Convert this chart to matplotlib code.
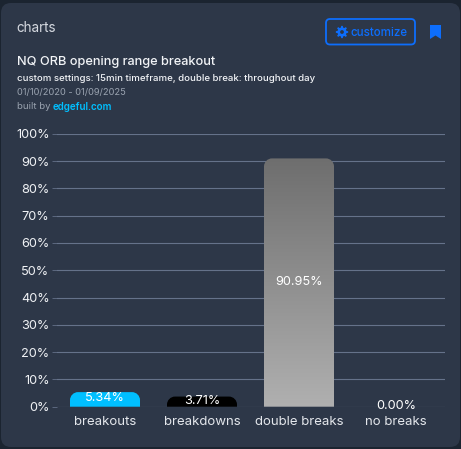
import matplotlib

matplotlib.use("Agg")
import matplotlib.pyplot as plt
import numpy as np
from matplotlib.patches import Circle, FancyBboxPatch, PathPatch, Polygon
from matplotlib.path import Path

W, H = 461, 449

categories = ["breakouts", "breakdowns", "double breaks", "no breaks"]
values = [5.34, 3.71, 90.95, 0.00]
value_labels = ["5.34%", "3.71%", "90.95%", "0.00%"]
bar_colors = ["#00BFFF", "#000000", None, None]
y_ticks = list(range(0, 101, 10))
y_tick_labels = [f"{t}%" for t in y_ticks]

plt.rcParams["font.family"] = ["Inter", "DejaVu Sans"]

BG = "#1B2430"
CARD = "#2D3748"
GRID = "#65728A"
BLUE = "#0D6EFD"
BAR_W_PX = 70
RADIUS_PX = 8


def rounded_bar(x, height, half_w, rx, ry):
    """Closed path for a bar with rounded top corners, in data coords."""
    k = 0.45
    ry = min(ry, height)
    verts = [
        (x - half_w, 0),
        (x - half_w, height - ry),
        (x - half_w, height - ry * k),
        (x - half_w + rx * k, height),
        (x - half_w + rx, height),
        (x + half_w - rx, height),
        (x + half_w - rx * k, height),
        (x + half_w, height - ry * k),
        (x + half_w, height - ry),
        (x + half_w, 0),
        (x - half_w, 0),
    ]
    codes = [Path.MOVETO, Path.LINETO, Path.CURVE4, Path.CURVE4, Path.CURVE4, Path.LINETO,
             Path.CURVE4, Path.CURVE4, Path.CURVE4, Path.LINETO, Path.CLOSEPOLY]
    return Path(verts, codes)


def gear_points(cx, cy, outer, inner, teeth=8):
    """Outline of a solid gear icon."""
    pts = []
    step = 2 * np.pi / teeth
    for i in range(teeth):
        a = i * step
        for offset, r in [(-0.30, inner), (-0.17, outer), (0.17, outer), (0.30, inner)]:
            pts.append((cx + r * np.cos(a + offset * step), cy + r * np.sin(a + offset * step)))
    return pts


fig = plt.figure(figsize=(W / 100, H / 100), dpi=100, facecolor=BG)

# page layer, in pixels with y going down
page = fig.add_axes([0, 0, 1, 1], zorder=0)
page.set_xlim(0, W)
page.set_ylim(H, 0)
page.axis("off")
page.add_patch(FancyBboxPatch((1, 3), W - 2, H - 5, boxstyle="round,pad=0,rounding_size=10",
                              fc=CARD, ec="none"))
page.text(16.5, 28, "charts", color="#D5D9E0", fontsize=9.7, va="center")
page.text(16.5, 62, "NQ ORB opening range breakout", color="#F2F4F7", fontsize=9.2,
          va="center", fontweight="medium")
page.text(16.5, 78.5, "custom settings: 15min timeframe, double break: throughout day",
          color="#F2F4F7", fontsize=6.9, va="center", fontweight="medium")
page.text(16.5, 92.5, "01/10/2020 - 01/09/2025", color="#9AA3B0", fontsize=6.7, va="center")
page.text(16.5, 106.5, "built by", color="#9AA3B0", fontsize=6.9, va="center")
page.text(53, 106.5, "edgeful.com", color="#00BFFF", fontsize=7.1, va="center", fontweight="semibold")
page.add_patch(FancyBboxPatch((326, 19), 89, 25.5, boxstyle="round,pad=0,rounding_size=4",
                              fc="none", ec=BLUE, lw=1.3))
page.add_patch(Polygon(gear_points(342, 32, 6.2, 4.6), fc=BLUE, ec="none"))
page.add_patch(Circle((342, 32), 1.9, fc=CARD, ec="none"))
page.text(350.5, 32.5, "customize", color=BLUE, fontsize=8.3, va="center", fontweight="medium")
page.add_patch(Polygon([(430, 25), (441, 25), (441, 39), (435.5, 35.5), (430, 39)], fc=BLUE, ec="none"))

# chart axes: 0..100% spans y 406.7..133.7, four bands span x 56.5..444.5
ax = fig.add_axes([56.5 / W, 1 - 406.7 / H, 388 / W, 273 / H], zorder=1)
ax.patch.set_alpha(0)
for spine in ax.spines.values():
    spine.set_visible(False)
x_pos = np.arange(len(categories))
ax.set_axisbelow(True)
ax.grid(axis="y", color=GRID, lw=0.8)
ax.set_yticks(y_ticks, y_tick_labels)
ax.set_xticks(x_pos, categories)
ax.tick_params(axis="y", length=3.6, width=0.58, color=GRID, pad=1.5, labelsize=9.2, labelcolor="#F0F2F5")
ax.tick_params(axis="x", length=0, pad=7, labelsize=9.5, labelcolor="#E4E7EC")

half_w = (BAR_W_PX / 388 * 4) / 2
rx = RADIUS_PX / 388 * 4
ry = RADIUS_PX / 273 * 100
gradient = np.linspace(0, 1, 256).reshape(-1, 1)
gray_map = matplotlib.colors.LinearSegmentedColormap.from_list("bar", ["#6E6E6E", "#B0B0B0"])

for x, v, color in zip(x_pos, values, bar_colors):
    if v <= 0:
        continue
    path = rounded_bar(x, v, half_w, rx, ry)
    if color is None:
        patch = PathPatch(path, fc="none", ec="none", transform=ax.transData)
        ax.add_patch(patch)
        img = ax.imshow(gradient, cmap=gray_map, aspect="auto", zorder=2,
                        extent=(x - half_w, x + half_w, 0, v), origin="upper")
        img.set_clip_path(patch)
    else:
        ax.add_patch(PathPatch(path, fc=color, ec="none", zorder=2))

ax.set_xlim(-0.5, 3.5)
ax.set_ylim(0, 100)

for x, v, label in zip(x_pos, values, value_labels):
    ax.text(x, v / 2 + 0.35, label, color="#FFFFFF", fontsize=9.2, ha="center", va="center",
            zorder=3, clip_on=False)

fig.savefig("out.png", dpi=100, facecolor=BG)
